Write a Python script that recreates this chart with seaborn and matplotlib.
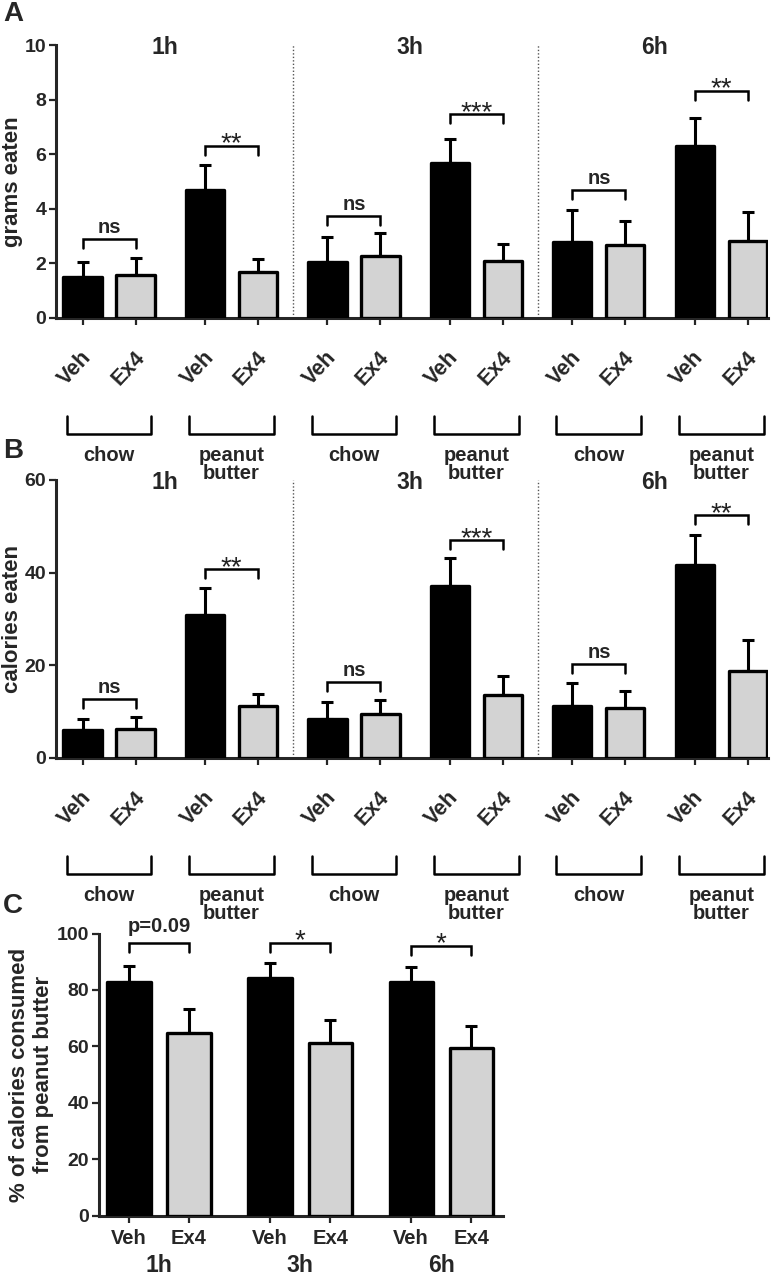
import numpy as np
import pandas as pd
import matplotlib
matplotlib.use("Agg")
import matplotlib.pyplot as plt
import matplotlib.transforms as mtrans
import seaborn as sns

times = ["1h", "3h", "6h"]
diets = ["chow", "peanut\nbutter"]
treatments = ["Veh", "Ex4"]

# A: grams eaten, order 1h chow Veh/Ex4, 1h PB Veh/Ex4, 3h ..., 6h ...
grams_mean = [1.50, 1.57, 4.69, 1.69, 2.05, 2.27, 5.67, 2.09, 2.78, 2.67, 6.30, 2.83]
grams_sem = [0.55, 0.63, 0.91, 0.47, 0.92, 0.83, 0.88, 0.61, 1.17, 0.88, 1.03, 1.04]
grams_sig = ["ns", "**", "ns", "***", "ns", "**"]
grams_brk = [2.9, 6.3, 3.75, 7.46, 4.69, 8.31]

# B: calories eaten
cal_mean = [6.0, 6.35, 30.8, 11.2, 8.5, 9.4, 37.1, 13.7, 11.2, 10.8, 41.6, 18.7]
cal_sem = [2.4, 2.55, 5.8, 2.7, 3.6, 3.1, 6.0, 4.0, 4.9, 3.6, 6.6, 6.7]
cal_sig = ["ns", "**", "ns", "***", "ns", "**"]
cal_brk = [12.7, 40.7, 16.4, 47.0, 20.2, 52.4]

# C: % of calories from peanut butter
pct_mean = [82.9, 64.6, 84.3, 61.1, 82.9, 59.3]
pct_sem = [5.7, 8.5, 5.1, 8.2, 5.1, 8.0]
pct_sig = ["p=0.09", "*", "*"]
pct_brk = [96.6, 96.8, 95.6]

sns.set_style("ticks")
plt.rcParams["font.family"] = ["Liberation Sans", "DejaVu Sans"]
plt.rcParams["font.weight"] = "bold"
plt.rcParams["axes.linewidth"] = 2.2
plt.rcParams["xtick.major.width"] = 1.6
plt.rcParams["ytick.major.width"] = 1.6
plt.rcParams["xtick.major.size"] = 5
plt.rcParams["ytick.major.size"] = 5

TICK_FS = 14
LABEL_FS = 16
TITLE_FS = 16.5
palette = {"Veh": "black", "Ex4": "#d3d3d3"}

fig = plt.figure(figsize=(7.79, 12.75), dpi=100)


def ax_frac(ax, px):
    # pixel distance -> axes fraction (vertical)
    return px / (ax.get_position().height * fig.get_figheight() * fig.dpi)


def bars(ax, pos, means, sems):
    df = pd.DataFrame({"pos": pos, "value": means,
                       "treatment": treatments * (len(means) // 2)})
    sns.barplot(data=df, x="pos", y="value", hue="treatment", palette=palette,
                native_scale=True, dodge=False, width=0.72, errorbar=None,
                edgecolor="black", linewidth=2.4, legend=False, ax=ax)
    for p in ax.patches:
        p.set_joinstyle("round")
        p.set_zorder(3)
    ax.errorbar(pos, means, yerr=[np.zeros(len(sems)), sems], fmt="none",
                ecolor="black", elinewidth=2.2, capsize=4.3, capthick=2.2, zorder=2)


def brackets(ax, pos, sig, brk, drop):
    for i, (s, h) in enumerate(zip(sig, brk)):
        x0, x1 = pos[2 * i], pos[2 * i + 1]
        ax.plot([x0, x0, x1, x1], [h - drop, h, h, h - drop], color="black",
                lw=1.8, clip_on=False, solid_joinstyle="miter")
        if s.startswith("*"):
            ax.annotate(s, xy=((x0 + x1) / 2, h), xytext=(0, -4),
                        textcoords="offset points", ha="center", va="baseline",
                        fontsize=20, fontweight="normal", color="#222222")
        else:
            off = 8 if s.startswith("p") else 4.3
            ax.annotate(s, xy=((x0 + x1) / 2, h), xytext=(0, off),
                        textcoords="offset points", ha="center", va="baseline",
                        fontsize=14.5, fontweight="bold")


def food_panel(rect, means, sems, sig, brk, drop, ymax, ystep, ylabel):
    ax = fig.add_axes(rect)
    gap = 2.31
    pos = [g * gap + t for g in range(6) for t in range(2)]
    bars(ax, pos, means, sems)
    brackets(ax, pos, sig, brk, drop)
    ax.set_xlim(-0.5, 12.93)
    ax.set_ylim(0, ymax)
    yt = np.arange(0, ymax + 1e-9, ystep)
    ax.set_yticks(yt)
    ax.set_yticklabels([f"{v:g}" for v in yt], fontsize=TICK_FS, fontweight="bold")
    ax.tick_params(axis="y", pad=2)
    ax.set_xticks(pos)
    ax.set_xticklabels(treatments * 6, rotation=47, ha="right", va="top",
                       rotation_mode="anchor", fontsize=15.5, fontweight="bold")
    ax.tick_params(axis="x", pad=16)
    for lab in ax.get_xticklabels():
        lab.set_transform(lab.get_transform() +
                          mtrans.ScaledTranslation(-2 / 100, 0, fig.dpi_scale_trans))
    ax.set_xlabel("")
    ax.set_ylabel(ylabel, fontsize=LABEL_FS, fontweight="bold")
    ax.yaxis.set_label_coords(-0.047, 0.5)
    sns.despine(ax=ax)
    # dotted separators between time blocks
    for k in (1, 2):
        xs = (pos[4 * k - 1] + pos[4 * k]) / 2
        ax.axvline(xs, color="#555555", lw=1.0, ls=(0, (1, 1.5)), zorder=1)
    # time labels
    trans = ax.get_xaxis_transform()
    for k, t in enumerate(times):
        xc = (pos[4 * k] + pos[4 * k + 3]) / 2 - 0.1
        ax.text(xc, 0.99, t, transform=trans, ha="center", va="center",
                fontsize=TITLE_FS, fontweight="bold")
    # diet brackets under the tick labels
    yb = -ax_frac(ax, 116)
    yt_ = -ax_frac(ax, 98)
    for g in range(6):
        xc = (pos[2 * g] + pos[2 * g + 1]) / 2
        ax.plot([xc - 0.8, xc - 0.8, xc + 0.8, xc + 0.8], [yt_, yb, yb, yt_],
                transform=trans, color="black", lw=1.8, clip_on=False)
        ax.text(xc, -ax_frac(ax, 128), diets[g % 2], transform=trans,
                ha="center", va="top", fontsize=14.5, fontweight="bold",
                linespacing=0.95)
    return ax


axA = food_panel([56 / 779, 1 - 318 / 1275, 712 / 779, 273 / 1275],
                 grams_mean, grams_sem, grams_sig, grams_brk, 0.33, 10, 2,
                 "grams eaten")
axB = food_panel([56 / 779, 1 - 758 / 1275, 712 / 779, 278 / 1275],
                 cal_mean, cal_sem, cal_sig, cal_brk, 1.95, 60, 20,
                 "calories eaten")

# panel C
axC = fig.add_axes([99 / 779, 1 - 1215.5 / 1275, 404 / 779, 282 / 1275])
posC = [g * 2.35 + t for g in range(3) for t in range(2)]
bars(axC, posC, pct_mean, pct_sem)
brackets(axC, posC, pct_sig, pct_brk, 3.2)
axC.set_xlim(-0.5, 6.23)
axC.set_ylim(0, 100)
axC.set_yticks(np.arange(0, 101, 20))
axC.set_yticklabels([str(v) for v in range(0, 101, 20)], fontsize=TICK_FS,
                    fontweight="bold")
axC.tick_params(axis="y", pad=2)
axC.set_xticks(posC)
axC.set_xticklabels(treatments * 3, fontsize=TICK_FS + 0.5, fontweight="bold")
axC.tick_params(axis="x", pad=5)
axC.set_xlabel("")
axC.set_ylabel("% of calories consumed\nfrom peanut butter", fontsize=LABEL_FS,
               fontweight="bold")
axC.yaxis.set_label_coords(-0.111, 0.5)
sns.despine(ax=axC)
transC = axC.get_xaxis_transform()
for k, t in enumerate(times):
    xc = (posC[2 * k] + posC[2 * k + 1]) / 2
    axC.text(xc, -ax_frac(axC, 50), t, transform=transC, ha="center",
             va="center", fontsize=TITLE_FS, fontweight="bold")

# panel letters
for letter, ypx in (("A", 1), ("B", 438), ("C", 893)):
    fig.text(3 / 779, 1 - ypx / 1275, letter, ha="left", va="top",
             fontsize=20, fontweight="bold")

fig.savefig("out.png", dpi=100)
